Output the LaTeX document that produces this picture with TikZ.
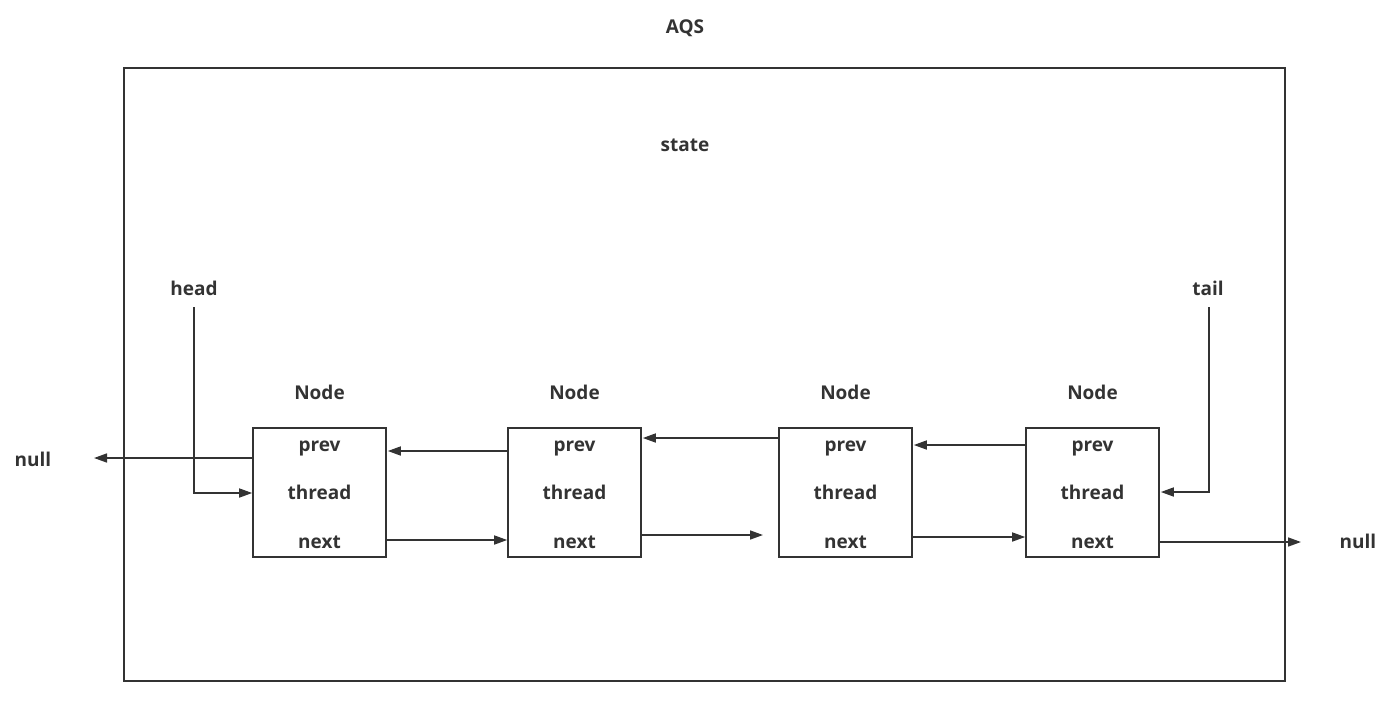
\documentclass[tikz,border=0pt]{standalone}
\usepackage{fontspec}
\setmainfont{Open Sans}
\usetikzlibrary{arrows.meta}
\definecolor{ink}{HTML}{333333}
\begin{document}
\begin{tikzpicture}[x=1pt,y=-1pt,
  every node/.style={text=ink,font=\fontsize{19}{21}\selectfont\bfseries},
  lbl/.style={inner sep=2pt,text height=10pt,text depth=0pt},
  qbox/.style={draw=ink,line width=1.6pt,minimum width=133pt,minimum height=129pt,inner sep=0pt},
  conn/.style={draw=ink,line width=1.6pt,-{Triangle[length=13pt,width=9pt]}},
  plain/.style={draw=ink,line width=1.6pt}]
\useasboundingbox (0,0) rectangle (1400,713);
\node[lbl] (aqs) at (685,28) {AQS};
\node[draw=ink,line width=1.6pt,minimum width=1161pt,minimum height=613pt,inner sep=0pt] (frame) at (704.5,374.5) {};
\node[lbl] (state) at (685,146) {state};
% boxes
\foreach \n/\x in {1/319.5,2/574.5,3/845.5,4/1092.5}{
  \node[qbox] (b\n) at (\x,492.5) {};
  \node[lbl] (t\n) at (\x,394) {Node};
  \node[lbl] (p\n) at (\x,446) {prev};
  \node[lbl] (h\n) at (\x,494) {thread};
  \node[lbl] (x\n) at (\x,543) {next};
}
\node[lbl] (nullL) at (33,461) {null};
\node[lbl] (nullR) at (1358,543) {null};
\node[lbl] (head) at (194,290) {head};
\node[lbl] (tail) at (1208,290) {tail};
\coordinate (nl) at (94,458);
\coordinate (nr) at (1301,542);
\coordinate (gap) at (763,535);
% prev links
\draw[conn] ([yshift=34.5pt]b1.west) -- (nl);
\draw[conn] ([yshift=41.5pt]b2.west) -- ([yshift=41.5pt,xshift=1pt]b1.east);
\draw[conn] ([yshift=54.5pt]b3.west) -- ([yshift=54.5pt,xshift=1pt]b2.east);
\draw[conn] ([yshift=47.5pt]b4.west) -- ([yshift=47.5pt,xshift=1pt]b3.east);
% next links
\draw[conn] ([yshift=-47.5pt]b1.east) -- ([yshift=-47.5pt]b2.west);
\draw[conn] ([yshift=-42.5pt]b2.east) -- (gap);
\draw[conn] ([yshift=-44.5pt]b3.east) -- ([yshift=-44.5pt]b4.west);
\draw[conn] ([yshift=-49.5pt]b4.east) -- (nr);
% head / tail
\draw[conn] ([yshift=-10pt]head.south) |- ([yshift=-0.5pt]b1.west);
\draw[conn] ([xshift=1pt,yshift=-10pt]tail.south) |- ([yshift=0.5pt,xshift=1pt]b4.east);
\end{tikzpicture}
\end{document}
